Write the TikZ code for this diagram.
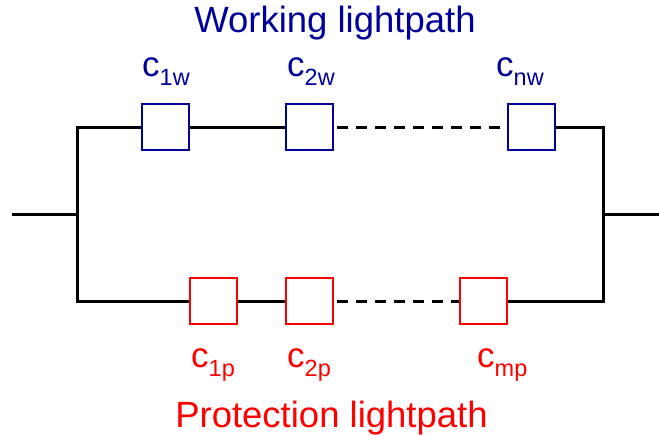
\documentclass[tikz,border=0pt]{standalone}
\usepackage{fontspec}
\setmainfont{Liberation Sans}
\definecolor{wblue}{RGB}{0,0,153}
\definecolor{pred}{RGB}{255,0,0}
\begin{document}
\begin{tikzpicture}[x=1pt,y=-1pt,
  wire/.style={line width=3pt,black,line join=miter},
  dashwire/.style={wire,dash pattern=on 11pt off 8pt},
  wbox/.style={draw=wblue,line width=2pt,minimum width=47pt,minimum height=46pt,inner sep=0pt},
  pbox/.style={draw=pred,line width=2pt,minimum width=47pt,minimum height=46pt,inner sep=0pt},
  lab/.style={anchor=base west,inner sep=0pt},
  title/.style={anchor=base,inner sep=0pt,font=\fontsize{36.5}{36.5}\selectfont}]
\useasboundingbox (0,0) rectangle (659,436);
\newcommand{\clab}[1]{{\fontsize{35}{35}\selectfont c}\raisebox{-9pt}{\fontsize{23.5}{23.5}\selectfont #1}}
% titles
\node[title,text=wblue] (tw) at (335,33) {Working lightpath};
\node[title,text=pred] (tp) at (331.5,427) {Protection lightpath};
% boxes
\node[wbox] (w1) at (165.5,127) {};
\node[wbox] (w2) at (309.5,127) {};
\node[wbox] (wn) at (531.5,127) {};
\node[pbox] (p1) at (213.5,301) {};
\node[pbox] (p2) at (309.5,301) {};
\node[pbox] (pm) at (483,301) {};
% labels
\node[lab,text=wblue] (lw1) at (142,77) {\clab{1w}};
\node[lab,text=wblue] (lw2) at (287,77) {\clab{2w}};
\node[lab,text=wblue] (lwn) at (496,77) {\clab{nw}};
\node[lab,text=pred] (lp1) at (191,367) {\clab{1p}};
\node[lab,text=pred] (lp2) at (287,367) {\clab{2p}};
\node[lab,text=pred] (lpm) at (477,367) {\clab{mp}};
% junctions
\coordinate (in) at (12,214);
\coordinate (jl) at (77,214);
\coordinate (jr) at (603,214);
\coordinate (out) at (659,214);
% wires
\draw[wire] (in) -- (jl);
\draw[wire] (jr) -- (out);
\draw[wire] (jl) |- (w1.west);
\draw[wire] (jl) |- (p1.west);
\draw[wire] (w1.east) -- (w2.west);
\draw[wire] (p1.east) -- (p2.west);
\draw[dashwire] ([xshift=3pt]w2.east) -- (wn.west);
\draw[dashwire] ([xshift=3pt]p2.east) -- (pm.west);
\draw[wire] (wn.east) -| (jr);
\draw[wire] (pm.east) -| (jr);
\end{tikzpicture}
\end{document}
